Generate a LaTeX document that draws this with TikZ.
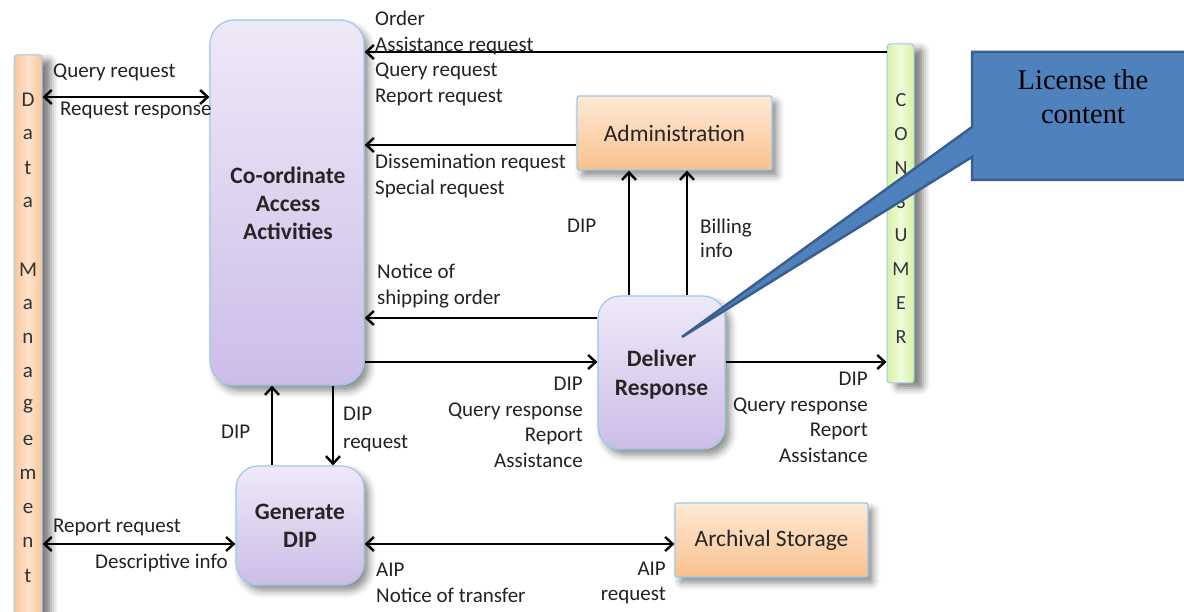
\documentclass[tikz,border=0pt]{standalone}
\usepackage{fontspec}
\setmainfont{Carlito}
\newfontfamily\notefont{Liberation Serif}
\usetikzlibrary{arrows.meta,shadows.blur}

\definecolor{lavtop}{HTML}{EEE9F8}
\definecolor{lavbot}{HTML}{CCBDE7}
\definecolor{edgeblue}{HTML}{9CC9EC}
\definecolor{peachtop}{HTML}{FEEAD6}
\definecolor{peachbot}{HTML}{F9C18E}
\definecolor{barorange}{HTML}{FAC69A}
\definecolor{barorangemid}{HTML}{FDE2CB}
\definecolor{bargreen}{HTML}{D6F2A2}
\definecolor{bargreenmid}{HTML}{F0FBDC}
\definecolor{notefill}{HTML}{4F81BD}
\definecolor{noteedge}{HTML}{3A5F8E}
\definecolor{labelgray}{HTML}{222222}

\tikzset{
  shade/.style={blur shadow={shadow xshift=5pt,shadow yshift=-6pt,
      shadow blur radius=7pt,shadow opacity=45}},
  procbox/.style={draw=edgeblue,line width=1.2pt,rounded corners=24pt,
      top color=lavtop,bottom color=lavbot,shade,
      font=\fontsize{23.5}{28}\selectfont\bfseries,align=center,
      text=black!85,inner sep=0pt},
  storebox/.style={draw=edgeblue,line width=1.2pt,rounded corners=2pt,
      top color=peachtop,bottom color=peachbot,shade,
      font=\fontsize{23.5}{28}\selectfont,text=black!85,inner sep=0pt},
  sidebar/.style={draw=edgeblue,line width=1pt,rounded corners=3pt,inner sep=0pt,
      blur shadow={shadow xshift=9pt,shadow yshift=-5pt,
      shadow blur radius=7pt,shadow opacity=50}},
  barletter/.style={font=\fontsize{21}{24}\selectfont,text=black!80,inner sep=0pt},
  lbl/.style={font=\fontsize{21}{25.5}\selectfont,text=labelgray,inner sep=0pt},
  arr/.style={line width=2.4pt,-{Straight Barb[length=7.5pt,width=14pt]}},
  dbl/.style={line width=2.4pt,{Straight Barb[length=7.5pt,width=14pt]}-{Straight Barb[length=7.5pt,width=14pt]}},
}

\begin{document}
\begin{tikzpicture}[x=1pt,y=-1pt]
\useasboundingbox (0,0) rectangle (1184,612);
\clip (0,0) rectangle (1184,612);

% side entities
\node[sidebar,minimum width=28pt,minimum height=572pt,
      left color=barorange,right color=barorange,middle color=barorangemid]
      (dm) at (28,341) {};
\node[sidebar,minimum width=27pt,minimum height=339pt,
      left color=bargreen,right color=bargreen,middle color=bargreenmid]
      (cons) at (900.5,213.5) {};

\foreach \ch [count=\i from 0] in {D,a,t,a,,M,a,n,a,g,e,m,e,n,t}
  \node[barletter] (dm\i) at (28,{100+34*\i}) {\ch};
\foreach \ch [count=\i from 0] in {C,O,N,S,U,M,E,R}
  \node[barletter,font=\fontsize{20}{22}\selectfont] (cons\i) at (901,{100+33.9*\i}) {\ch};

% functions
\node[procbox,minimum width=154pt,minimum height=365pt] (caa) at (287,202.5) {};
\node[font=\fontsize{23.5}{28}\selectfont\bfseries,align=center,text=black!85]
      (caatext) at (288,203) {Co-ordinate\\Access\\Activities};
\node[storebox,minimum width=195pt,minimum height=74pt] (adm) at (674.5,133) {Administration};
\node[procbox,rounded corners=22pt,minimum width=127pt,minimum height=153pt] (dr) at (661.5,372.5) {};
\node[font=\fontsize{23.5}{29}\selectfont\bfseries,align=center,text=black!85]
      (drtext) at (661.5,375) {Deliver\\Response};
\node[procbox,rounded corners=22pt,minimum width=128pt,minimum height=119pt] (gdip) at (300,525.5) {Generate\\DIP};
\node[storebox,minimum width=193pt,minimum height=74pt] (as) at (771.5,540) {Archival Storage};

% flows
\draw[dbl] (dm.east |- 0,97) -- (caa.west |- 0,97);
\node[lbl,anchor=west] (l1) at (53,72) {Query request};
\node[lbl,anchor=west] (l2) at (60,110) {Request response};

\draw[arr] (cons.west |- 0,52) -- (caa.east |- 0,52);
\node[lbl,anchor=west,align=left] (l3) at (375,58.5) {Order\\Assistance request\\Query request\\Report request};

\draw[arr] (adm.west |- 0,145) -- (caa.east |- 0,145);
\node[lbl,anchor=west,align=left] (l4) at (375,176) {Dissemination request\\Special request};

\draw[arr] (dr.west |- 0,318) -- (caa.east |- 0,318);
\node[lbl,anchor=west,align=left] (l5) at (377,286) {Notice of\\shipping order};

\draw[arr] (caa.east |- 0,362) -- (dr.west |- 0,362);
\node[lbl,anchor=east,align=right] (l6) at (583,422.5) {DIP\\Query response\\Report\\Assistance};

\draw[arr] (dr.east |- 0,362) -- (cons.west |- 0,362);
\node[lbl,anchor=east,align=right] (l7) at (868,417.5) {DIP\\Query response\\Report\\Assistance};

\draw[arr] (dr.north -| 629,0) -- (adm.south -| 629,0);
\draw[arr] (dr.north -| 687,0) -- (adm.south -| 687,0);
\node[lbl,anchor=west] (l8) at (567,226) {DIP};
\node[lbl,anchor=west,align=left,font=\fontsize{21}{24}\selectfont] (l9) at (700,238) {Billing\\info};

\draw[arr] (gdip.north -| 272,0) -- (caa.south -| 272,0);
\node[lbl,anchor=west] (l10) at (221,432) {DIP};
\draw[arr] (caa.south -| 333,0) -- (gdip.north -| 333,0);
\node[lbl,anchor=west,align=left,font=\fontsize{21}{28}\selectfont] (l11) at (343,429) {DIP\\request};

\draw[dbl] (dm.east |- 0,544) -- (gdip.west |- 0,544);
\node[lbl,anchor=west] (l12) at (53,527) {Report request};
\node[lbl,anchor=west] (l13) at (95,563) {Descriptive info};

\draw[dbl] (gdip.east |- 0,544) -- (as.west |- 0,544);
\node[lbl,anchor=west,align=left] (l14) at (376,583) {AIP\\Notice of transfer};
\node[lbl,anchor=east,align=right] (l15) at (666,583) {AIP\\request};

% callout
\coordinate (tip) at (682,337);
\draw[fill=notefill,draw=noteedge,line width=2.5pt,line join=miter]
  (972,52) -- (1200,52) -- (1200,180) -- (972,180) -- (972,157) -- (tip) -- (972,127) -- cycle;
\node[font=\notefont\fontsize{28.5}{34}\selectfont,align=center,text=black,inner sep=0pt]
  (note) at (1083,97) {License the\\content};
\end{tikzpicture}
\end{document}
